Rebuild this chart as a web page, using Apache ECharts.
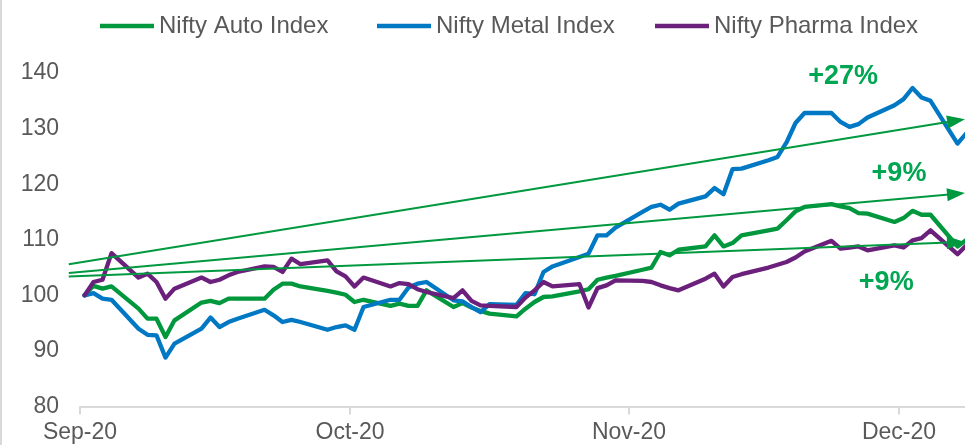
<!DOCTYPE html>
<html>
<head>
<meta charset="utf-8">
<script src="https://cdn.jsdelivr.net/npm/echarts@6/dist/echarts.min.js"></script>
<style>
html,body{margin:0;padding:0;background:#fff;}
#chart{width:965px;height:445px;}
</style>
</head>
<body>
<div id="chart"></div>
<script>
// ---- data ----
const dates = [
  '2020-09-01','2020-09-02','2020-09-03','2020-09-04','2020-09-07','2020-09-08','2020-09-09','2020-09-10','2020-09-11',
  '2020-09-14','2020-09-15','2020-09-16','2020-09-17','2020-09-18','2020-09-21','2020-09-22','2020-09-23','2020-09-24',
  '2020-09-25','2020-09-28','2020-09-29','2020-09-30',
  '2020-10-01','2020-10-02','2020-10-05','2020-10-06','2020-10-07','2020-10-08','2020-10-09','2020-10-12','2020-10-13',
  '2020-10-14','2020-10-15','2020-10-16','2020-10-19','2020-10-20','2020-10-21','2020-10-22','2020-10-23','2020-10-26',
  '2020-10-27','2020-10-28','2020-10-29','2020-10-30',
  '2020-11-02','2020-11-03','2020-11-04','2020-11-05','2020-11-06','2020-11-09','2020-11-10','2020-11-11','2020-11-12',
  '2020-11-13','2020-11-16','2020-11-17','2020-11-18','2020-11-19','2020-11-20','2020-11-23','2020-11-24','2020-11-25',
  '2020-11-26','2020-11-27','2020-11-30',
  '2020-12-01','2020-12-02','2020-12-03','2020-12-04','2020-12-07','2020-12-08'
];
const autoIndex = [
  100.0, 101.7, 101.2, 101.6, 97.6, 95.8, 95.8, 92.5, 95.5, 98.7, 99.0, 98.6, 99.4, 99.4, 99.4, 101.0, 102.1, 102.1, 101.6, 100.8, 100.5, 100.1,
  98.8, 99.2, 98.1, 98.5, 98.1, 98.1, 100.9, 97.9, 98.6, 97.8, 97.2, 96.7, 96.2, 97.6, 98.8, 99.7, 99.8, 100.7, 101.1, 102.8, 103.2, 103.5,
  104.6, 105.0, 107.8, 107.2, 108.2, 108.8, 110.8, 108.8, 109.4, 110.8, 111.7, 112.0, 113.5, 115.1, 115.9, 116.4, 116.0, 115.7, 114.8, 114.7, 113.2,
  113.9, 115.2, 114.5, 114.5, 108.8, 110.0
];
const metalIndex = [
  100.0, 100.4, 99.4, 99.2, 94.0, 92.9, 92.8, 88.8, 91.3, 94.0, 96.0, 94.3, 95.2, 95.8, 97.4, 96.4, 95.2, 95.6, 95.2, 93.8, 94.3, 94.6,
  93.8, 97.9, 99.2, 99.2, 101.4, 102.1, 102.4, 99.1, 98.9, 97.9, 97.0, 98.4, 98.3, 100.4, 100.2, 104.2, 105.2, 106.9, 107.5, 110.8, 110.8, 112.2,
  115.0, 115.9, 116.3, 115.4, 116.5, 117.8, 119.3, 118.2, 122.7, 122.8, 124.3, 124.9, 127.5, 131.0, 132.8, 132.8, 131.2, 130.3, 130.8, 132.0, 134.2,
  135.3, 137.3, 135.6, 135.0, 127.3, 129.2
];
const pharmaIndex = [
  100.0, 102.4, 102.8, 107.6, 103.2, 103.9, 102.4, 99.4, 101.2, 103.2, 102.4, 102.8, 103.6, 104.2, 105.2, 105.1, 104.2, 106.6, 105.6, 106.3, 104.3, 103.4,
  101.6, 103.2, 101.6, 102.2, 102.0, 101.1, 100.6, 99.5, 100.9, 99.0, 98.2, 98.1, 97.9, 99.6, 100.9, 102.4, 101.6, 102.0, 97.8, 101.3, 101.8, 102.7,
  102.6, 102.4, 101.8, 101.3, 100.9, 103.0, 103.9, 101.6, 103.3, 103.8, 105.0, 105.5, 106.0, 106.8, 107.9, 109.8, 108.4, 108.6, 108.8, 108.1, 109.0,
  108.6, 109.9, 110.3, 111.7, 107.4, 109.0
];
const seriesNames = ['Nifty Auto Index', 'Nifty Metal Index', 'Nifty Pharma Index'];

const tickDates = ['2020-09-01', '2020-10-01', '2020-11-01', '2020-12-01'];
const tickLabels = ['Sep-20', 'Oct-20', 'Nov-20', 'Dec-20'];

// trend arrows
const arrowFromDates = ['2020-08-30T18:00:00', '2020-08-30T18:00:00', '2020-08-30T18:00:00'];
const arrowFromValues = [105.6, 104.0, 103.4];
const arrowToDates = ['2020-12-08T08:00:00', '2020-12-08T08:00:00', '2020-12-08T08:00:00'];
const arrowToValues = [131.7, 118.4, 109.6];
const arrowLabels = ['+27%', '+9%', '+9%'];
const arrowLabelDates = ['2020-11-24T19:00:00', '2020-12-01T00:00:00', '2020-11-29T14:00:00'];
const arrowLabelValues = [139.4, 122.0, 102.3];

// ---- chart ----
const ts = s => new Date(s.length === 10 ? s + 'T00:00:00' : s).getTime();
const mid = s => new Date(s + 'T12:00:00').getTime();
const tickTs = tickDates.map(ts);

const colors = ['#00973D', '#0078C4', '#6B207C'];
const arrowColor = '#00993F';
const labelColor = '#00A651';
const FONT = '"Liberation Sans", Arial, sans-serif';
const legendLefts = [95, 372, 650];

function lineSeries(name, values, color) {
  return {
    name: name,
    type: 'line',
    data: dates.map((d, i) => [mid(d), values[i]]),
    symbol: 'none',
    showSymbol: false,
    smooth: false,
    clip: true,
    lineStyle: { color: color, width: 4.3, join: 'round', cap: 'round' },
    itemStyle: { color: color },
    emphasis: { disabled: true },
    z: 2
  };
}

const chart = echarts.init(document.getElementById('chart'), null, { renderer: 'canvas' });
chart.setOption({
  animation: false,
  backgroundColor: '#ffffff',
  textStyle: { fontFamily: FONT },
  graphic: [{
    type: 'rect', left: 0, top: 0, silent: true,
    shape: { width: 2, height: 445 }, style: { fill: '#d9d9d9' }
  }],
  legend: seriesNames.map((n, i) => ({
    data: [{ name: n, icon: 'rect' }],
    left: legendLefts[i], top: 9,
    itemWidth: 54, itemHeight: 4.5, itemGap: 0,
    textStyle: { color: '#595959', fontSize: 24, fontFamily: FONT },
    selectedMode: false
  })),
  grid: { left: 80, right: 0, top: 73, bottom: 38.5, containLabel: false },
  xAxis: {
    type: 'value',
    min: ts('2020-09-01'),
    max: ts('2020-12-08T08:00:00'),
    scale: true,
    axisLine: { show: true, lineStyle: { color: '#d9d9d9', width: 2 } },
    axisTick: { show: true, customValues: tickTs, length: 8, lineStyle: { color: '#d9d9d9', width: 2 } },
    axisLabel: {
      show: true, customValues: tickTs, margin: 15,
      color: '#595959', fontSize: 23, fontFamily: FONT,
      formatter: function (v) {
        const i = tickTs.indexOf(v);
        return i >= 0 ? tickLabels[i] : '';
      }
    },
    splitLine: { show: false }
  },
  yAxis: {
    type: 'value', min: 80, max: 140, interval: 10,
    axisLine: { show: false }, axisTick: { show: false },
    splitLine: { show: false },
    axisLabel: { color: '#595959', fontSize: 23, fontFamily: FONT, margin: 21 }
  },
  series: [
    lineSeries(seriesNames[0], autoIndex, colors[0]),
    lineSeries(seriesNames[1], metalIndex, colors[1]),
    lineSeries(seriesNames[2], pharmaIndex, colors[2]),
    {
      type: 'custom',
      name: 'arrows',
      coordinateSystem: 'cartesian2d',
      clip: false,
      silent: true,
      z: 5,
      encode: { x: [0, 2], y: [1, 3] },
      data: arrowFromValues.map((v, i) => [ts(arrowFromDates[i]), v, ts(arrowToDates[i]), arrowToValues[i]]),
      renderItem: function (params, api) {
        const p0 = api.coord([api.value(0), api.value(1)]);
        const p1 = api.coord([api.value(2), api.value(3)]);
        const dx = p1[0] - p0[0], dy = p1[1] - p0[1];
        const L = Math.hypot(dx, dy);
        const ux = dx / L, uy = dy / L;
        const hl = 18, hw = 6.5;
        const bx = p1[0] - ux * hl, by = p1[1] - uy * hl;
        return {
          type: 'group',
          children: [
            { type: 'line', shape: { x1: p0[0], y1: p0[1], x2: bx + ux * 2, y2: by + uy * 2 },
              style: { stroke: arrowColor, lineWidth: 2 } },
            { type: 'polygon', shape: { points: [[p1[0], p1[1]], [bx - uy * hw, by + ux * hw], [bx + uy * hw, by - ux * hw]] },
              style: { fill: arrowColor } }
          ]
        };
      }
    },
    {
      type: 'custom',
      name: 'arrowLabels',
      coordinateSystem: 'cartesian2d',
      clip: false,
      silent: true,
      z: 6,
      encode: { x: 0, y: 1 },
      data: arrowLabelValues.map((v, i) => [ts(arrowLabelDates[i]), v]),
      renderItem: function (params, api) {
        const p = api.coord([api.value(0), api.value(1)]);
        return {
          type: 'text',
          x: p[0], y: p[1],
          style: {
            text: arrowLabels[params.dataIndex],
            fill: labelColor,
            fontSize: 27, fontWeight: 'bold', fontFamily: FONT,
            align: 'center', verticalAlign: 'middle'
          }
        };
      }
    }
  ]
});
</script>
</body>
</html>
